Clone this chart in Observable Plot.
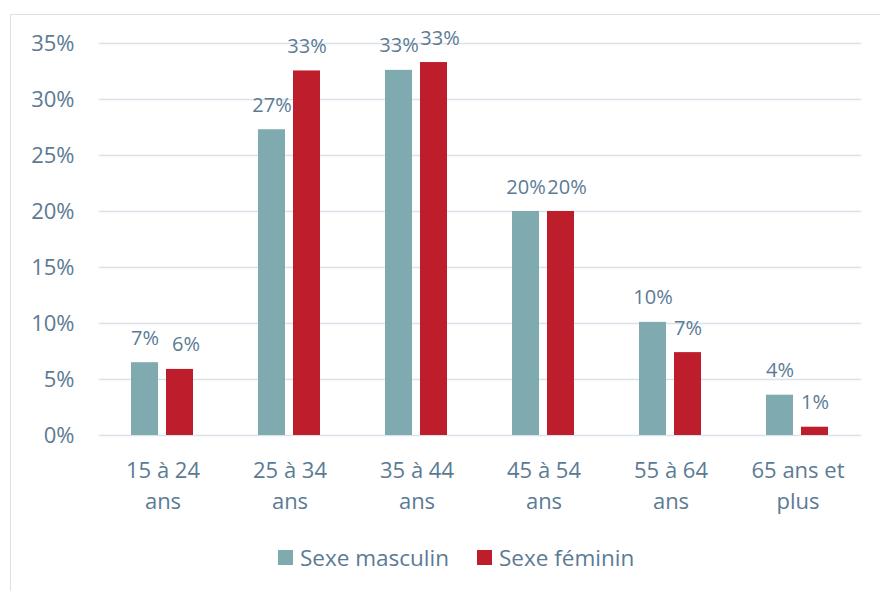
<!DOCTYPE html>
<html>
<head>
<meta charset="utf-8">
<script src="https://cdn.jsdelivr.net/npm/d3@7"></script>
<script src="https://cdn.jsdelivr.net/npm/@observablehq/plot@0.6"></script>
<style>
  body { margin: 0; background: #fff; font-family: "Open Sans", sans-serif; }
  #wrap { position: relative; width: 880px; height: 591px; overflow: hidden; background: #fff; }
  #border { position: absolute; left: 10px; top: 14px; width: 900px; height: 620px; border: 1.5px solid #d9e1ea; box-sizing: border-box; }
  #chart { position: absolute; left: 0; top: 0; }
  #legend { position: absolute; left: 278px; top: 542px; display: flex; align-items: center; font-size: 22.5px; color: #5b7b95; }
  .item { display: flex; align-items: center; margin-right: 28px; }
  .sw { width: 15px; height: 15px; margin-right: 7px; }
</style>
</head>
<body>
<div id="wrap">
  <div id="border"></div>
  <div id="chart"></div>
  <div id="legend"></div>
</div>
<script>
const categories = ["15 à 24\nans", "25 à 34\nans", "35 à 44\nans", "45 à 54\nans", "55 à 64\nans", "65 ans et\nplus"];
const series = ["Sexe masculin", "Sexe féminin"];
const colors = ["#7faab0", "#be1e2b"];
const male = [6.5, 27.3, 32.6, 20.0, 10.1, 3.6];
const female = [5.9, 32.55, 33.3, 20.0, 7.4, 0.74];
const yTicks = [0, 5, 10, 15, 20, 25, 30, 35];

const textColor = "#5b7b95";
const gridColor = "#d9e1ea";

const data = categories.flatMap((c, i) => [
  {cat: c, sex: series[0], v: male[i], close: Math.abs(male[i] - female[i]) < 2},
  {cat: c, sex: series[1], v: female[i], close: Math.abs(male[i] - female[i]) < 2}
]);

const labelOpts = {fx: "cat", x: "sex", y: "v", text: d => Math.round(d.v) + "%", lineAnchor: "bottom", dy: -18, fontSize: 20, fill: textColor};

const plot = Plot.plot({
  width: 880,
  height: 530,
  marginLeft: 97,
  marginRight: 18,
  marginTop: 43,
  marginBottom: 95,
  style: {fontFamily: '"Open Sans", sans-serif', color: textColor, background: "transparent", overflow: "visible"},
  fx: {domain: categories, padding: 0, label: null},
  x: {domain: series, paddingInner: 0.22, paddingOuter: 0.88, axis: null},
  y: {domain: [0, 35], label: null},
  color: {domain: series, range: colors},
  marks: [
    Plot.gridY(yTicks, {stroke: gridColor, strokeOpacity: 1, strokeWidth: 1.5}),
    Plot.axisY(yTicks, {tickSize: 0, tickPadding: 25, tickFormat: d => d + "%", fontSize: 22, fill: textColor, label: null}),
    Plot.axisFx({anchor: "bottom", tickSize: 0, tickPadding: 21, fontSize: 22, lineHeight: 1.4, fill: textColor, label: null}),
    Plot.barY(data, {fx: "cat", x: "sex", y: "v", fill: "sex"}),
    Plot.text(data.filter(d => d.sex === series[0] || !d.close), labelOpts),
    Plot.text(data.filter(d => d.sex === series[1] && d.close), {...labelOpts, dx: 6})
  ]
});
document.getElementById("chart").appendChild(plot);

const legend = document.getElementById("legend");
series.forEach((s, i) => {
  const item = document.createElement("div");
  item.className = "item";
  const sw = document.createElement("div");
  sw.className = "sw";
  sw.style.background = plot.scale("color").apply(s);
  const lab = document.createElement("span");
  lab.textContent = s;
  item.appendChild(sw);
  item.appendChild(lab);
  legend.appendChild(item);
});
</script>
</body>
</html>
